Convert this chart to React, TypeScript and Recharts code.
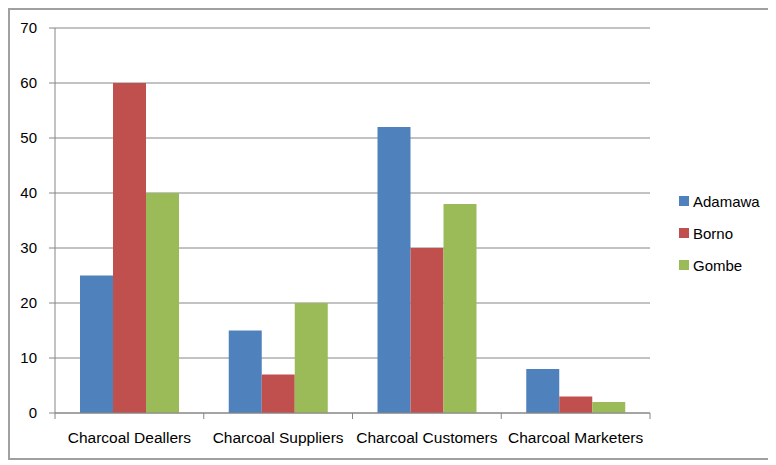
import React from 'react';
import { BarChart, Bar, XAxis, YAxis, CartesianGrid, Legend } from 'recharts';

const categories = ['Charcoal Deallers', 'Charcoal Suppliers', 'Charcoal Customers', 'Charcoal Marketers'];
const adamawa = [25, 15, 52, 8];
const borno = [60, 7, 30, 3];
const gombe = [40, 20, 38, 2];
const yTicks = [0, 10, 20, 30, 40, 50, 60, 70];

const data = categories.map((c, i) => ({ name: c, Adamawa: adamawa[i], Borno: borno[i], Gombe: gombe[i] }));

const AXIS = '#868686';
const FONT = '"Liberation Sans", Arial, sans-serif';
const TICK_SIZE = 6;
const TICK_MARGIN = 10;

const XTick = (props: any) => {
  const { x, y, payload, index } = props;
  const half = payload.offset || 0;
  const axisY = y - TICK_SIZE - TICK_MARGIN;
  return (
    <g>
      <line x1={x - half} x2={x - half} y1={axisY} y2={axisY + TICK_SIZE} stroke={AXIS} />
      {index === categories.length - 1 && (
        <line x1={x + half} x2={x + half} y1={axisY} y2={axisY + TICK_SIZE} stroke={AXIS} />
      )}
      <text x={x} y={y + 13.5} textAnchor="middle" fill="#000" fontSize={15.5} fontFamily={FONT}>
        {payload.value}
      </text>
    </g>
  );
};

const LegendContent = (props: any) => {
  const { payload } = props;
  return (
    <div style={{ fontFamily: FONT, fontSize: 15, color: '#000' }}>
      {(payload || []).map((p: any) => (
        <div key={p.value} style={{ height: 32, display: 'flex', alignItems: 'center' }}>
          <span style={{ display: 'inline-block', width: 10, height: 10, background: p.color, marginRight: 4 }} />
          <span>{p.value}</span>
        </div>
      ))}
    </div>
  );
};

export default function App() {
  return (
    <div style={{ width: 762, height: 448, border: '2px solid #a0a0a0', position: 'relative', background: '#fff' }}>
      <BarChart
        width={762}
        height={448}
        data={data}
        margin={{ top: 18, right: 122, bottom: 15, left: 0 }}
        barSize={33}
        barGap={0}
        style={{ fontFamily: FONT }}
      >
        <CartesianGrid vertical={false} stroke={AXIS} />
        <XAxis
          dataKey="name"
          height={30}
          axisLine={{ stroke: AXIS }}
          tickLine={false}
          tickSize={TICK_SIZE}
          tickMargin={TICK_MARGIN}
          interval={0}
          tick={<XTick />}
        />
        <YAxis
          width={45}
          domain={[0, 70]}
          ticks={yTicks}
          interval={0}
          axisLine={{ stroke: AXIS }}
          tickLine={{ stroke: AXIS }}
          tickSize={6}
          tickMargin={12}
          tick={{ fill: '#000', fontSize: 15, fontFamily: FONT }}
        />
        <Legend
          layout="horizontal"
          verticalAlign="middle"
          align="center"
          content={<LegendContent />}
          wrapperStyle={{ left: 669, top: 175, width: 90 }}
        />
        <Bar dataKey="Adamawa" fill="#4F81BD" isAnimationActive={false} />
        <Bar dataKey="Borno" fill="#C0504D" isAnimationActive={false} />
        <Bar dataKey="Gombe" fill="#9BBB59" isAnimationActive={false} />
      </BarChart>
    </div>
  );
}
